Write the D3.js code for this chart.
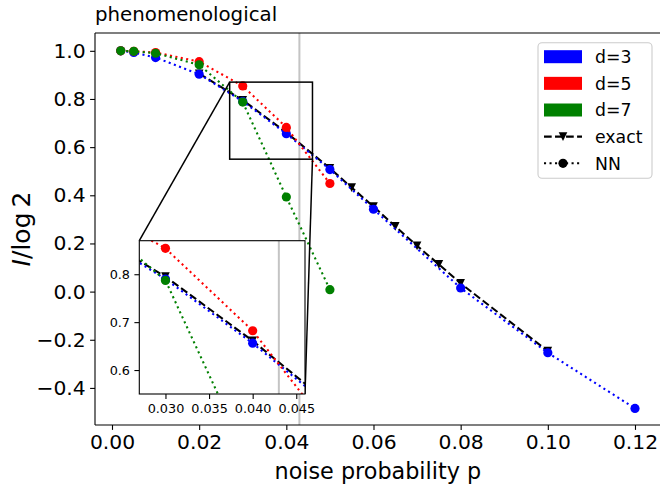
<!DOCTYPE html>
<html><head><meta charset="utf-8">
<script src="https://cdn.jsdelivr.net/npm/d3@7"></script>
<style>body{margin:0;background:#fff}svg{display:block}text{font-family:"DejaVu Sans",sans-serif;fill:#000}</style>
</head><body>
<svg id="c" width="660" height="489"></svg>
<script>
// ---- data ----
const pD3 = [0.002, 0.005, 0.01, 0.02, 0.03, 0.04, 0.05, 0.06, 0.08, 0.10, 0.12];
const nnD3 = [1.0, 0.993, 0.972, 0.903, 0.790, 0.656, 0.507, 0.342, 0.015, -0.254, -0.485];
const pD5 = [0.002, 0.005, 0.01, 0.02, 0.03, 0.04, 0.05];
const nnD5 = [1.0, 0.998, 0.993, 0.955, 0.854, 0.682, 0.449];
const pD7 = [0.002, 0.005, 0.01, 0.02, 0.03, 0.04, 0.05];
const nnD7 = [1.0, 0.998, 0.990, 0.942, 0.787, 0.393, 0.008];
const pExact = [0.02, 0.03, 0.04, 0.05, 0.055, 0.06, 0.065, 0.07, 0.075, 0.08, 0.10];
const exactD3 = [0.905, 0.795, 0.661, 0.512, 0.432, 0.353, 0.271, 0.190, 0.113, 0.034, -0.247];
const threshold = 0.043;
const xTicks = [0.00, 0.02, 0.04, 0.06, 0.08, 0.10, 0.12];
const yTicks = [-0.4, -0.2, 0.0, 0.2, 0.4, 0.6, 0.8, 1.0];
const insetXTicks = [0.030, 0.035, 0.040, 0.045];
const insetYTicks = [0.6, 0.7, 0.8];
const insetXDomain = [0.027, 0.046];
const insetYDomain = [0.55, 0.87];
const legendLabels = ["d=3", "d=5", "d=7", "exact", "NN"];
const colors = {3: "#0000ff", 5: "#ff0000", 7: "#008000"};

const svg = d3.select("#c");
const M = {l: 95, r: 660.7, t: 33, b: 425};
const x = d3.scaleLinear().domain([-0.0039, 0.1259]).range([M.l, M.r]);
const y = d3.scaleLinear().domain([-0.554, 1.074]).range([M.b, M.t]);

const LW = 2.08;
const DOT = `${LW} ${LW*1.65}`;
const DASH = `${LW*3.7} ${LW*1.6}`;

function drawSeries(g, xs, ys, ps, vs, color, dash, marker) {
  const data = ps.map((p, i) => [p, vs[i]]);
  const line = d3.line().x(d => xs(d[0])).y(d => ys(d[1]));
  g.append("path").attr("d", line(data)).attr("fill", "none")
    .attr("stroke", color).attr("stroke-width", LW).attr("stroke-dasharray", dash);
  if (marker === "o") {
    g.selectAll(null).data(data).enter().append("circle")
      .attr("cx", d => xs(d[0])).attr("cy", d => ys(d[1])).attr("r", 4.6).attr("fill", color);
  } else {
    const s = 4.3;
    g.selectAll(null).data(data).enter().append("path")
      .attr("d", d => { const cx = xs(d[0]), cy = ys(d[1]); return `M${cx-s},${cy-s}L${cx+s},${cy-s}L${cx},${cy+s}Z`; })
      .attr("fill", color);
  }
}

function drawAll(g, xs, ys) {
  g.append("line").attr("x1", xs(threshold)).attr("x2", xs(threshold))
    .attr("y1", ys.range()[0]).attr("y2", ys.range()[1])
    .attr("stroke", "#c4c4c4").attr("stroke-width", 2);
  drawSeries(g, xs, ys, pExact, exactD3, "#000", DASH, "v");
  drawSeries(g, xs, ys, pD3, nnD3, colors[3], DOT, "o");
  drawSeries(g, xs, ys, pD5, nnD5, colors[5], DOT, "o");
  drawSeries(g, xs, ys, pD7, nnD7, colors[7], DOT, "o");
}

// main
const mainG = svg.append("g");
drawAll(mainG, x, y);

// axes main
const ax = svg.append("g");
const xAxis = ax.append("g").attr("transform", `translate(0,${M.b})`)
  .call(d3.axisBottom(x).tickValues(xTicks).tickFormat(d3.format(".2f")).tickSize(4.9).tickPadding(4.6));
const yAxis = ax.append("g").attr("transform", `translate(${M.l},0)`)
  .call(d3.axisLeft(y).tickValues(yTicks).tickFormat(d => d3.format(".1f")(d).replace("-", "\u2212")).tickSize(4.9).tickPadding(4.4));
[xAxis, yAxis].forEach(a => {
  a.select(".domain").remove();
  a.selectAll(".tick line").attr("stroke", "#000").attr("stroke-width", 1.1);
  a.selectAll(".tick text").style("font-size", "20.3px").style("font-family", "DejaVu Sans").attr("fill", "#000");
});
ax.append("line").attr("x1", M.l).attr("x2", M.l).attr("y1", M.t).attr("y2", M.b).attr("stroke", "#000").attr("stroke-width", 1.1);
ax.append("line").attr("x1", M.l).attr("x2", M.r).attr("y1", M.b).attr("y2", M.b).attr("stroke", "#000").attr("stroke-width", 1.1);
ax.append("line").attr("x1", M.l).attr("x2", M.r).attr("y1", M.t).attr("y2", M.t).attr("stroke", "#000").attr("stroke-width", 1.1);
ax.append("line").attr("x1", M.r).attr("x2", M.r).attr("y1", M.t).attr("y2", M.b).attr("stroke", "#000").attr("stroke-width", 1.1);

// labels
svg.append("text").attr("x", M.l).attr("y", 21).style("font-size", "19.8px").text("phenomenological");
svg.append("text").attr("x", (M.l + M.r) / 2).attr("y", 479).attr("text-anchor", "middle")
  .style("font-size", "22.3px").text("noise probability p");
const yl = svg.append("text").attr("transform", `translate(30,${(M.t + M.b) / 2}) rotate(-90)`)
  .attr("text-anchor", "middle").style("font-size", "25px");
yl.append("tspan").style("font-style", "italic").text("I");
yl.append("tspan").text("/log\u20092");

// inset indicator
const IX = d3.scaleLinear().domain(insetXDomain).range([139.3, 305]);
const IY = d3.scaleLinear().domain(insetYDomain).range([394, 240.7]);
const rx0 = x(insetXDomain[0]), rx1 = x(insetXDomain[1]), ry0 = y(insetYDomain[1]), ry1 = y(insetYDomain[0]);
svg.append("rect").attr("x", rx0).attr("y", ry0).attr("width", rx1 - rx0).attr("height", ry1 - ry0)
  .attr("fill", "none").attr("stroke", "#000").attr("stroke-width", 1.5);
svg.append("line").attr("x1", rx0).attr("y1", ry0).attr("x2", IX.range()[0]).attr("y2", IY.range()[1])
  .attr("stroke", "#000").attr("stroke-width", 1.5);
svg.append("line").attr("x1", rx1).attr("y1", ry1).attr("x2", IX.range()[1]).attr("y2", IY.range()[0])
  .attr("stroke", "#000").attr("stroke-width", 1.5);

// legend
const lg = svg.append("g");
lg.append("rect").attr("x", 538).attr("y", 42.7).attr("width", 114).attr("height", 135.5).attr("rx", 4)
  .attr("fill", "#fff").attr("fill-opacity", 0.8).attr("stroke", "#cccccc").attr("stroke-width", 1.1);
legendLabels.forEach((lab, i) => {
  const cy = 56.7 + i * 26.65;
  if (i < 3) {
    lg.append("rect").attr("x", 544).attr("y", cy - 6.5).attr("width", 38).attr("height", 13)
      .attr("fill", colors[[3, 5, 7][i]]);
  } else {
    lg.append("line").attr("x1", 544).attr("x2", 582).attr("y1", cy).attr("y2", cy)
      .attr("stroke", "#000").attr("stroke-width", LW).attr("stroke-dasharray", i === 3 ? DASH : DOT);
    if (i === 3) {
      const s = 4.3, c = 563;
      lg.append("path").attr("d", `M${c-s},${cy-s}L${c+s},${cy-s}L${c},${cy+s}Z`).attr("fill", "#000");
    } else {
      lg.append("circle").attr("cx", 563).attr("cy", cy).attr("r", 4.6).attr("fill", "#000");
    }
  }
  lg.append("text").attr("x", 595).attr("y", cy).attr("dy", "0.36em").style("font-size", "17.3px").text(lab);
});

// inset
const ins = svg.append("g");
ins.append("rect").attr("x", IX.range()[0]).attr("y", IY.range()[1]).attr("width", IX.range()[1] - IX.range()[0])
  .attr("height", IY.range()[0] - IY.range()[1]).attr("fill", "#fff");
svg.append("defs").append("clipPath").attr("id", "ic").append("rect")
  .attr("x", IX.range()[0]).attr("y", IY.range()[1]).attr("width", IX.range()[1] - IX.range()[0])
  .attr("height", IY.range()[0] - IY.range()[1]);
const insData = ins.append("g").attr("clip-path", "url(#ic)");
drawAll(insData, IX, IY);
const ixa = ins.append("g").attr("transform", `translate(0,${IY.range()[0]})`)
  .call(d3.axisBottom(IX).tickValues(insetXTicks).tickFormat(d3.format(".3f")).tickSize(4.9).tickPadding(5));
const iya = ins.append("g").attr("transform", `translate(${IX.range()[0]},0)`)
  .call(d3.axisLeft(IY).tickValues(insetYTicks).tickFormat(d3.format(".1f")).tickSize(4.9).tickPadding(4.4));
[ixa, iya].forEach(a => {
  a.select(".domain").remove();
  a.selectAll(".tick line").attr("stroke", "#000").attr("stroke-width", 1.1);
  a.selectAll(".tick text").style("font-size", "12.8px").style("font-family", "DejaVu Sans").attr("fill", "#000");
});
ins.append("rect").attr("x", IX.range()[0]).attr("y", IY.range()[1]).attr("width", IX.range()[1] - IX.range()[0])
  .attr("height", IY.range()[0] - IY.range()[1]).attr("fill", "none").attr("stroke", "#000").attr("stroke-width", 1.1);
</script>
</body></html>
